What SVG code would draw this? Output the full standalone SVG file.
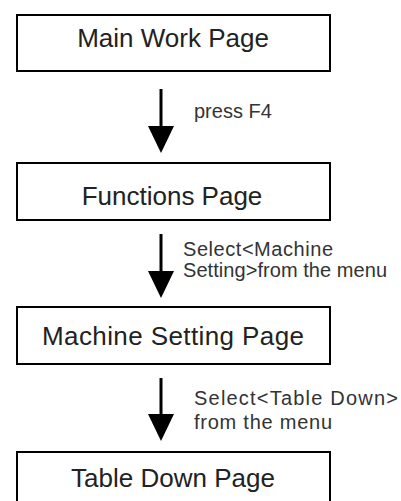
<svg xmlns="http://www.w3.org/2000/svg" width="401" height="501" viewBox="0 0 401 501">
  <defs>
    <style>
      .box { fill: #ffffff; stroke: #000000; stroke-width: 2; }
      .title { font-family: "Liberation Sans", Arial, sans-serif; font-size: 26px; fill: #222222; text-anchor: middle; }
      .label { font-family: "Liberation Sans", Arial, sans-serif; font-size: 20px; fill: #333333; }
      .shaft { stroke: #000000; stroke-width: 3; fill: none; marker-end: url(#head); }
    </style>
    <marker id="head" markerUnits="userSpaceOnUse" markerWidth="27" markerHeight="26" viewBox="0 0 27 26" refX="0" refY="13" orient="auto">
      <path d="M0,0 L27,13 L0,26 Z" fill="#000000"/>
    </marker>
  </defs>
  <rect width="401" height="501" fill="#ffffff"/>

  <g id="node-main-work-page">
    <rect class="box" x="17" y="15" width="313" height="56"/>
    <text class="title" x="173" y="47" fill="#111111">Main Work Page</text>
  </g>
  <g id="node-functions-page">
    <rect class="box" x="17" y="163" width="313" height="57"/>
    <text class="title" x="172" y="205">Functions Page</text>
  </g>
  <g id="node-machine-setting-page">
    <rect class="box" x="17" y="307" width="313" height="57"/>
    <text class="title" x="173" y="345" textLength="262">Machine Setting Page</text>
  </g>
  <g id="node-table-down-page">
    <rect class="box" x="17" y="452" width="313" height="60"/>
    <text class="title" x="173" y="487">Table Down Page</text>
  </g>

  <g id="connectors">
    <line class="shaft" x1="161" y1="89" x2="161" y2="126"/>
    <text class="label" x="194" y="118" font-size="21" fill="#444444">press F4</text>

    <line class="shaft" x1="161" y1="234" x2="161" y2="271"/>
    <text class="label" x="183" y="256" textLength="150">Select&lt;Machine</text>
    <text class="label" x="183" y="277" textLength="204">Setting&gt;from the menu</text>

    <line class="shaft" x1="161" y1="378" x2="161" y2="414"/>
    <text class="label" x="194" y="405" font-size="21" textLength="204">Select&lt;Table Down&gt;</text>
    <text class="label" x="194" y="429" font-size="21" textLength="138">from the menu</text>
  </g>
</svg>
